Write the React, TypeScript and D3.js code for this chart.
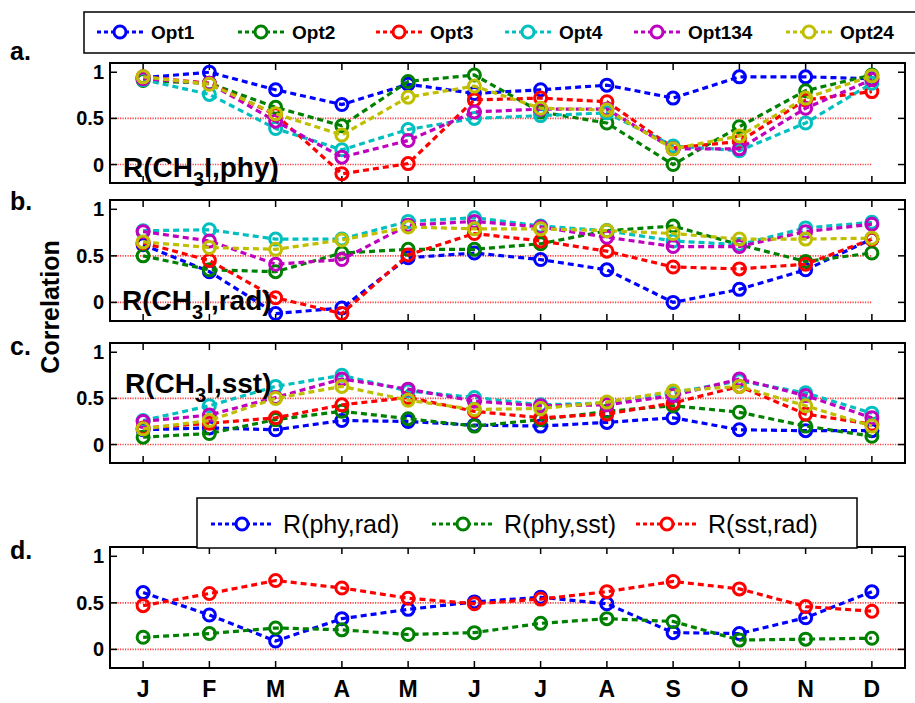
import React from "react";
import * as d3 from "d3";

const months = ["J", "F", "M", "A", "M", "J", "J", "A", "S", "O", "N", "D"];
const optNames = ["Opt1", "Opt2", "Opt3", "Opt4", "Opt134", "Opt24"];
const optColors = ["#0000ff", "#008000", "#ff0000", "#00bfbf", "#bf00bf", "#bfbf00"];
const yTicks = [0, 0.5, 1];
const yTickLabels = ["0", "0.5", "1"];

// Panel a: R(CH3I, phy)
const aOpt1 = [0.94, 1.0, 0.81, 0.65, 0.87, 0.77, 0.81, 0.86, 0.72, 0.95, 0.95, 0.93];
const aOpt2 = [0.91, 0.88, 0.62, 0.42, 0.9, 0.97, 0.57, 0.45, 0.0, 0.41, 0.8, 0.97];
const aOpt3 = [0.95, 0.88, 0.54, -0.1, 0.01, 0.7, 0.72, 0.68, 0.18, 0.25, 0.7, 0.79];
const aOpt4 = [0.92, 0.76, 0.39, 0.16, 0.38, 0.5, 0.53, 0.56, 0.2, 0.15, 0.45, 0.88];
const aOpt134 = [0.93, 0.88, 0.47, 0.08, 0.26, 0.57, 0.6, 0.6, 0.17, 0.17, 0.61, 0.92];
const aOpt24 = [0.95, 0.87, 0.55, 0.32, 0.73, 0.85, 0.61, 0.59, 0.17, 0.31, 0.72, 0.96];

// Panel b: R(CH3I, rad)
const bOpt1 = [0.62, 0.33, -0.12, -0.06, 0.48, 0.53, 0.46, 0.35, 0.0, 0.14, 0.35, 0.68];
const bOpt2 = [0.5, 0.35, 0.33, 0.53, 0.57, 0.57, 0.63, 0.77, 0.82, 0.62, 0.44, 0.53];
const bOpt3 = [0.64, 0.45, 0.05, -0.12, 0.51, 0.74, 0.66, 0.55, 0.38, 0.36, 0.41, 0.68];
const bOpt4 = [0.77, 0.78, 0.68, 0.68, 0.87, 0.91, 0.82, 0.77, 0.66, 0.62, 0.8, 0.86];
const bOpt134 = [0.76, 0.66, 0.41, 0.46, 0.83, 0.87, 0.81, 0.7, 0.6, 0.6, 0.76, 0.84];
const bOpt24 = [0.65, 0.59, 0.57, 0.67, 0.81, 0.79, 0.79, 0.77, 0.74, 0.68, 0.68, 0.69];

// Panel c: R(CH3I, sst)
const cOpt1 = [0.16, 0.18, 0.16, 0.26, 0.25, 0.21, 0.2, 0.24, 0.29, 0.16, 0.15, 0.15];
const cOpt2 = [0.08, 0.12, 0.27, 0.36, 0.28, 0.2, 0.27, 0.36, 0.42, 0.35, 0.2, 0.09];
const cOpt3 = [0.18, 0.23, 0.29, 0.43, 0.51, 0.36, 0.29, 0.33, 0.45, 0.63, 0.33, 0.22];
const cOpt4 = [0.26, 0.42, 0.63, 0.75, 0.58, 0.51, 0.43, 0.45, 0.56, 0.69, 0.56, 0.34];
const cOpt134 = [0.25, 0.32, 0.51, 0.71, 0.6, 0.47, 0.42, 0.43, 0.53, 0.71, 0.53, 0.29];
const cOpt24 = [0.17, 0.26, 0.5, 0.63, 0.48, 0.38, 0.39, 0.46, 0.58, 0.63, 0.42, 0.2];

// Panel d
const dNames = ["R(phy,rad)", "R(phy,sst)", "R(sst,rad)"];
const dColors = ["#0000ff", "#008000", "#ff0000"];
const dPhyRad = [0.61, 0.37, 0.09, 0.33, 0.43, 0.51, 0.56, 0.49, 0.18, 0.17, 0.34, 0.62];
const dPhySst = [0.13, 0.17, 0.23, 0.21, 0.16, 0.18, 0.28, 0.33, 0.3, 0.1, 0.11, 0.12];
const dSstRad = [0.47, 0.6, 0.74, 0.66, 0.55, 0.49, 0.54, 0.62, 0.73, 0.65, 0.46, 0.41];

const FONT = "'Liberation Sans', Arial, Helvetica, sans-serif";
const W = 915;
const H = 703;
const LEFT = 110;
const RIGHT = 905;

const x = d3.scaleLinear().domain([0.5, 12.5]).range([LEFT, RIGHT]);

type Panel = {
  top: number;
  bottom: number;
  letter: string;
  letterY: number;
  series: number[][];
  colors: string[];
  refEnd: number;
  title?: { main: string; tail: string; y: number; x: number };
};

const panels: Panel[] = [
  {
    top: 63, bottom: 183, letter: "a.", letterY: 60,
    series: [aOpt1, aOpt2, aOpt3, aOpt4, aOpt134, aOpt24], colors: optColors, refEnd: 12,
    title: { main: "R(CH", tail: "I,phy)", y: 177, x: 123 },
  },
  {
    top: 200, bottom: 321, letter: "b.", letterY: 210,
    series: [bOpt1, bOpt2, bOpt3, bOpt4, bOpt134, bOpt24], colors: optColors, refEnd: 12,
    title: { main: "R(CH", tail: "I,rad)", y: 310, x: 122 },
  },
  {
    top: 343, bottom: 463, letter: "c.", letterY: 355,
    series: [cOpt1, cOpt2, cOpt3, cOpt4, cOpt134, cOpt24], colors: optColors, refEnd: 12.5,
    title: { main: "R(CH", tail: "I,sst)", y: 393, x: 125 },
  },
  {
    top: 547, bottom: 668, letter: "d.", letterY: 559,
    series: [dPhyRad, dPhySst, dSstRad], colors: dColors, refEnd: 12.5,
  },
];

const legendMarkers = [120, 261, 399, 528, 657, 809];
const dLegendStarts = [211, 432, 636];

function PanelView({ p }: { p: Panel }) {
  const y = d3.scaleLinear().domain([-0.2, 1.1]).range([p.bottom, p.top]);
  const line = d3
    .line<number>()
    .x((_, i) => x(i + 1))
    .y((v) => y(v));
  const tickLen = 7;
  return (
    <g>
      {[0, 0.5].map((v) => (
        <line
          key={v}
          x1={x(0.5)}
          x2={x(p.refEnd)}
          y1={y(v)}
          y2={y(v)}
          stroke="#ff4040"
          strokeWidth={1.6}
          strokeDasharray="1.2,1.3"
        />
      ))}
      {months.map((_, i) => (
        <g key={i}>
          <line x1={x(i + 1)} x2={x(i + 1)} y1={p.bottom} y2={p.bottom - tickLen} stroke="#000" strokeWidth={1.5} />
          <line x1={x(i + 1)} x2={x(i + 1)} y1={p.top} y2={p.top + tickLen} stroke="#000" strokeWidth={1.5} />
        </g>
      ))}
      {yTicks.map((v, i) => (
        <g key={v}>
          <line x1={LEFT} x2={LEFT + tickLen} y1={y(v)} y2={y(v)} stroke="#000" strokeWidth={1.5} />
          <line x1={RIGHT} x2={RIGHT - tickLen} y1={y(v)} y2={y(v)} stroke="#000" strokeWidth={1.5} />
          <text
            x={LEFT - 6}
            y={y(v)}
            textAnchor="end"
            dominantBaseline="central"
            fontFamily={FONT}
            fontWeight="bold"
            fontSize={20}
          >
            {yTickLabels[i]}
          </text>
        </g>
      ))}
      {p.series.map((s, k) => (
        <g key={k}>
          <path d={line(s) || ""} fill="none" stroke={p.colors[k]} strokeWidth={3.2} strokeDasharray="6,4" />
          {s.map((v, i) => (
            <circle key={i} cx={x(i + 1)} cy={y(v)} r={6} fill="none" stroke={p.colors[k]} strokeWidth={3} />
          ))}
        </g>
      ))}
      {p.title && (
        <text x={p.title.x} y={p.title.y} fontFamily={FONT} fontWeight="bold" fontSize={28}>
          {p.title.main}
          <tspan fontSize={20} dy={9}>3</tspan>
          <tspan dy={-9}>{p.title.tail}</tspan>
        </text>
      )}
      <rect x={LEFT} y={p.top} width={RIGHT - LEFT} height={p.bottom - p.top} fill="none" stroke="#000" strokeWidth={2} />
      <text x={10} y={p.letterY} fontFamily={FONT} fontWeight="bold" fontSize={25}>
        {p.letter}
      </text>
    </g>
  );
}

function LegendEntry({ x0, len, color, label, ty, fs, gap, bold }: { x0: number; len: number; color: string; label: string; ty: number; fs: number; gap: number; bold?: boolean }) {
  return (
    <g>
      <line x1={x0} x2={x0 + len} y1={ty} y2={ty} stroke={color} strokeWidth={3} strokeDasharray="4,3" />
      <circle cx={x0 + len / 2} cy={ty} r={6} fill="#fff" stroke={color} strokeWidth={3} />
      <text
        x={x0 + len + gap}
        y={ty}
        dominantBaseline="central"
        fontFamily={FONT}
        fontWeight={bold ? "bold" : "normal"}
        fontSize={fs}
      >
        {label}
      </text>
    </g>
  );
}

export default function App() {
  return (
    <svg
      width={W}
      height={H}
      style={{ position: "absolute", left: 0, top: 0, background: "#fff" }}
    >
      <rect x={0} y={0} width={W} height={H} fill="#fff" />
      {panels.map((p, i) => (
        <PanelView key={i} p={p} />
      ))}
      <text
        transform="translate(59,307) rotate(-90)"
        textAnchor="middle"
        fontFamily={FONT}
        fontWeight="bold"
        fontSize={25}
      >
        Correlation
      </text>
      {months.map((m, i) => (
        <text
          key={i}
          x={x(i + 1)}
          y={697}
          textAnchor="middle"
          fontFamily={FONT}
          fontWeight="bold"
          fontSize={23}
        >
          {m}
        </text>
      ))}
      <rect x={84} y={12} width={850} height={41} fill="#fff" stroke="#000" strokeWidth={1.5} />
      {optNames.map((n, i) => (
        <LegendEntry key={n} x0={legendMarkers[i] - 23} len={46} color={optColors[i]} label={n} ty={32} fs={19} gap={8} bold />
      ))}
      <rect x={197} y={498} width={660} height={50} fill="#fff" stroke="#000" strokeWidth={1.5} />
      {dNames.map((n, i) => (
        <LegendEntry key={n} x0={dLegendStarts[i]} len={62} color={dColors[i]} label={n} ty={524} fs={25} gap={10} />
      ))}
    </svg>
  );
}
